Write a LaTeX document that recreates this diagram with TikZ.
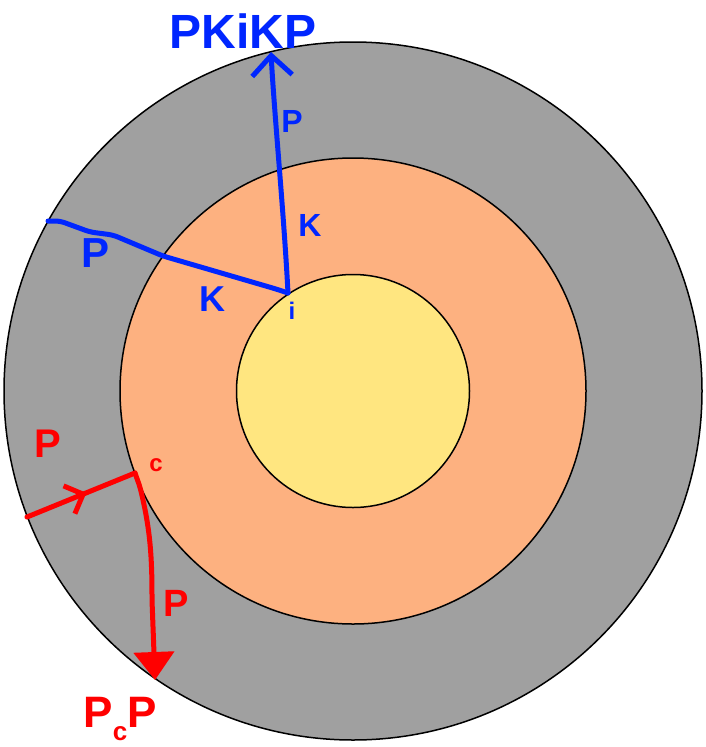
\documentclass[tikz,border=0pt]{standalone}
\usepackage{fontspec}
\setmainfont{Liberation Sans}
\usetikzlibrary{arrows.meta,decorations.markings}
\definecolor{mantleGrey}{RGB}{160,160,160}
\definecolor{outerCore}{RGB}{253,177,128}
\definecolor{innerCore}{RGB}{255,230,128}
\definecolor{rayBlue}{RGB}{0,38,255}
\definecolor{rayRed}{RGB}{255,0,0}

\begin{document}
\begin{tikzpicture}[x=1pt,y=-1pt,
    shell/.style={draw=black, line width=1.5pt},
    ray/.style={line width=5pt, line cap=round, line join=round,
      rounded corners=5pt},
    blueray/.style={ray, draw=rayBlue},
    redray/.style={ray, draw=rayRed},
    phase/.style={font=\fontsize{#1}{#1}\selectfont\bfseries,
      inner sep=0pt},
    bluephase/.style={phase=#1, text=rayBlue},
    redphase/.style={phase=#1, text=rayRed}]
    \useasboundingbox (0,0) rectangle (706,747);
    \fill[white] (0,0) rectangle (706,747);

    % earth shells
    \coordinate (centre) at (353,391);
    \path[shell, fill=mantleGrey] (centre) circle[radius=349pt];
    \path[shell, fill=outerCore] (centre) circle[radius=233pt];
    \path[shell, fill=innerCore] (centre) circle[radius=116.5pt];

    % PKiKP ray
    \coordinate (iPt) at (288,293);
    \coordinate (kikpIn) at (48,221);
    \coordinate (kikpOut) at (271,52);
    \draw[blueray] (kikpIn) -- (60,221) -- (90,232) -- (113,235)
      -- (163,256) -- (276,289) -- (iPt);
    \draw[blueray, -{Straight Barb[length=20pt,width=40pt]}]
      (iPt) .. controls (284,215) and (274,110) .. (kikpOut);

    % PcP ray
    \coordinate (cPt) at (135,473);
    \coordinate (pcpIn) at (27,517);
    \coordinate (pcpOut) at (155,680);
    \draw[redray, postaction={decorate}, decoration={markings,
        mark=at position .55 with {\arrow{Straight Barb[length=15pt,width=30pt]}}}]
      (pcpIn) -- (cPt);
    \draw[redray, -{Triangle[length=28pt,width=40pt]}]
      (cPt) -- (140,487) .. controls (149,525) and (152,550) .. (152,600)
      -- (pcpOut);

    % phase labels
    \node[bluephase=48] (pkikpLbl) at (243,31) {PKiKP};
    \node[bluephase=32] (pUpper) at (292,121) {P};
    \node[bluephase=32] (kUpper) at (310,225) {K};
    \node[bluephase=24] (iLbl) at (292,311) {i};
    \node[bluephase=42] (pLeft) at (96,253) {P};
    \node[bluephase=36] (kLeft) at (212,299) {K};
    \node[redphase=40] (pIn) at (48,444) {P};
    \node[redphase=24] (cLbl) at (156,465) {c};
    \node[redphase=38] (pDown) at (176,603) {P};
    \node[redphase=44] (pcpLbl) at (120,719)
      {P\raisebox{-.3em}{\fontsize{26}{26}\selectfont c}P};
\end{tikzpicture}
\end{document}
